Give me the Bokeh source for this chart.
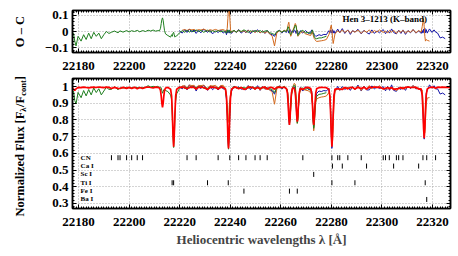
import numpy as np
from bokeh.plotting import figure
from bokeh.models import (ColumnDataSource, Range1d, LinearAxis, FixedTicker,
                          CustomJSTickFormatter, Label)
from bokeh.layouts import column, row
from bokeh.embed import file_html
from bokeh.resources import INLINE
from bokeh.core.properties import value

# ---------------- data ----------------
wavelength = [
    22177.5, 22178.0, 22178.5, 22179.0, 22179.8, 22181.0, 22182.0, 22183.0, 22184.0, 22185.0,
    22186.0, 22187.0, 22188.0, 22189.0, 22190.0, 22191.0, 22192.0, 22193.0, 22194.2, 22195.6,
    22196.4, 22197.6, 22199.0, 22200.0, 22201.0, 22202.1, 22203.2, 22204.2, 22205.3, 22206.5,
    22207.5, 22208.5, 22209.5, 22210.5, 22211.3, 22212.0, 22212.4, 22212.7, 22212.95, 22213.2,
    22213.45, 22213.7, 22214.0, 22214.4, 22215.3, 22216.4, 22216.8, 22217.1, 22217.35, 22217.6,
    22217.85, 22218.1, 22218.4, 22218.8, 22219.8, 22221.0, 22222.0, 22222.9, 22223.8, 22224.8,
    22225.7, 22226.5, 22227.4, 22228.4, 22229.5, 22231.0, 22232.0, 22233.0, 22234.2, 22235.2,
    22236.3, 22237.2, 22238.1, 22238.5, 22238.8, 22239.05, 22239.3, 22239.55, 22239.8, 22240.1,
    22240.5, 22241.5, 22242.4, 22243.3, 22244.3, 22245.4, 22246.2, 22247.1, 22248.0, 22248.9,
    22249.8, 22250.8, 22251.8, 22252.8, 22253.7, 22254.6, 22255.6, 22256.6, 22257.5, 22258.4,
    22259.4, 22260.4, 22261.3, 22262.2, 22262.6, 22262.9, 22263.15, 22263.4, 22263.65, 22263.9,
    22264.2, 22264.6, 22264.95, 22265.3, 22265.7, 22266.0, 22266.25, 22266.5, 22266.75, 22267.0,
    22267.3, 22267.7, 22268.7, 22269.8, 22270.8, 22271.8, 22272.2, 22272.5, 22272.75, 22273.0,
    22273.25, 22273.5, 22273.8, 22274.2, 22275.1, 22276.0, 22277.0, 22278.0, 22279.0, 22279.4,
    22279.7, 22279.95, 22280.2, 22280.45, 22280.7, 22281.0, 22281.4, 22282.5, 22283.3, 22284.3,
    22285.3, 22286.5, 22287.5, 22288.4, 22289.3, 22290.5, 22291.8, 22292.9, 22293.9, 22295.0,
    22296.0, 22297.0, 22298.0, 22299.0, 22300.5, 22301.4, 22302.2, 22303.0, 22303.8, 22304.6,
    22305.7, 22306.6, 22307.5, 22308.3, 22309.3, 22310.3, 22311.3, 22312.3, 22313.4, 22314.5,
    22315.5, 22315.9, 22316.2, 22316.45, 22316.7, 22316.95, 22317.2, 22317.5, 22317.9, 22318.8,
    22319.8, 22320.6, 22321.2, 22322.0, 22323.0, 22324.0, 22325.0, 22326.0, 22327.0,
]

model_flux = [
    0.994, 0.984, 0.976, 0.986, 0.995, 0.993, 0.996, 0.994, 0.992, 0.995,
    0.996, 0.994, 0.997, 0.995, 0.993, 0.996, 0.995, 0.988, 0.995, 0.989,
    0.988, 0.995, 0.989, 0.995, 0.988, 0.995, 0.987, 0.994, 0.988, 0.995,
    0.997, 0.994, 0.992, 0.996, 0.995, 0.991, 0.977, 0.941, 0.899, 0.875,
    0.899, 0.941, 0.977, 0.991, 0.995, 0.984, 0.942, 0.835, 0.711, 0.640,
    0.711, 0.835, 0.942, 0.984, 0.995, 0.996, 0.993, 0.986, 0.995, 0.996,
    0.994, 0.985, 0.995, 0.996, 0.994, 0.982, 0.995, 0.996, 0.994, 0.985,
    0.996, 0.995, 0.984, 0.940, 0.831, 0.703, 0.630, 0.703, 0.831, 0.940,
    0.984, 0.995, 0.996, 0.986, 0.994, 0.983, 0.987, 0.996, 0.995, 0.994,
    0.986, 0.994, 0.986, 0.995, 0.996, 0.985, 0.995, 0.994, 0.984, 0.995,
    0.996, 0.994, 0.995, 0.988, 0.961, 0.894, 0.815, 0.770, 0.815, 0.894,
    0.961, 0.988, 0.991, 0.989, 0.964, 0.903, 0.831, 0.790, 0.831, 0.903,
    0.964, 0.989, 0.983, 0.993, 0.995, 0.988, 0.961, 0.894, 0.815, 0.770,
    0.815, 0.894, 0.961, 0.988, 0.993, 0.995, 0.994, 0.993, 0.984, 0.942,
    0.835, 0.711, 0.640, 0.711, 0.835, 0.942, 0.984, 0.986, 0.985, 0.982,
    0.994, 0.986, 0.995, 0.994, 0.985, 0.995, 0.988, 0.995, 0.985, 0.996,
    0.994, 0.997, 0.995, 0.996, 0.987, 0.988, 0.994, 0.987, 0.994, 0.983,
    0.986, 0.987, 0.994, 0.987, 0.995, 0.997, 0.995, 0.994, 0.996, 0.985,
    0.986, 0.949, 0.858, 0.751, 0.690, 0.751, 0.858, 0.949, 0.986, 0.994,
    0.996, 0.995, 0.989, 0.996, 0.995, 0.996, 0.995, 0.996, 0.995,
]

# observed - model residuals (O - C) for the three observed spectra
oc_green = [
    None, -0.01, -0.06, -0.09, -0.03, -0.06, -0.02, -0.05, -0.01, -0.045,
    -0.005, -0.03, -0.01, -0.045, -0.02, 0.0, -0.012, -0.005, 0.003, -0.008,
    0.004, -0.004, 0.006, -0.003, 0.005, 0.0, 0.007, -0.002, 0.006, 0.0,
    0.008, 0.003, 0.009, 0.002, 0.006, 0.004, 0.02, 0.05, 0.075, 0.085,
    0.07, 0.04, 0.005, -0.015, -0.025, -0.035, -0.02, -0.03, -0.01, -0.005,
    -0.02, -0.035, -0.03, -0.028, -0.01, 0.005, -0.005, 0.008, -0.004, 0.006,
    -0.002, 0.01, 0.0, 0.007, -0.005, 0.008, -0.004, 0.005, -0.003, 0.006,
    -0.002, 0.004, -0.006, -0.01, 0.01, 0.0, -0.005, 0.01, 0.005, -0.01,
    0.0, 0.006, -0.004, 0.008, 0.0, 0.01, 0.004, -0.006, 0.005, -0.003,
    0.007, -0.002, 0.006, -0.005, 0.003, 0.005, -0.008, -0.012, -0.02, 0.0,
    0.006, -0.004, 0.005, 0.0, 0.015, 0.03, 0.02, 0.005, -0.015, -0.02,
    -0.01, 0.0, 0.01, 0.02, 0.04, 0.035, 0.01, -0.01, -0.025, -0.02,
    -0.01, 0.0, 0.008, -0.01, -0.005, -0.015, 0.0, 0.01, -0.005, -0.02,
    -0.03, -0.04, -0.045, -0.045, -0.04, -0.04, -0.035, -0.03,
]

oc_blue = [None] * 54 + [
    0.005, -0.01, 0.012, -0.006, 0.015, -0.004,
    0.01, -0.012, 0.006, -0.008, 0.014, -0.005, 0.008, -0.015, 0.004, -0.006,
    0.009, -0.01, 0.003, -0.02, 0.01, -0.01, 0.005, 0.008, -0.01, 0.0,
    -0.012, 0.008, -0.006, 0.012, -0.01, 0.004, -0.008, 0.01, -0.014, 0.006,
    -0.004, 0.011, -0.009, 0.005, -0.012, 0.007, -0.015, -0.02, -0.03, -0.005,
    0.008, -0.01, 0.004, -0.006, 0.01, 0.005, -0.01, 0.0, 0.012, 0.005,
    -0.008, 0.004, -0.006, 0.01, 0.005, -0.012, 0.0, 0.008, -0.005, -0.015,
    -0.008, 0.005, -0.01, 0.006, -0.012, -0.005, 0.01, 0.0, -0.015, -0.01,
    -0.02, -0.025, -0.03, -0.028, -0.02, -0.025, -0.018, -0.02, 0.005, -0.01,
    0.01, 0.0, -0.01, 0.012, -0.01, 0.005, -0.012, 0.015, -0.008, 0.018,
    -0.012, 0.01, -0.018, 0.006, -0.004, 0.014, -0.015, 0.008, -0.006, -0.016,
    0.01, -0.012, 0.004, -0.008, 0.012, -0.014, 0.006, -0.01, 0.016, -0.006,
    -0.015, 0.008, -0.012, 0.01, -0.018, 0.006, -0.008, 0.012, -0.01, 0.004,
    -0.012, 0.006, -0.01, 0.015, -0.005, 0.02, -0.008, 0.012, -0.01, 0.016,
    -0.006, 0.01, -0.004, -0.01, -0.04, -0.035, -0.045,
]

oc_orange = [None] * 55 + [
    0.008, 0.012, 0.006, 0.014, 0.01,
    0.013, 0.005, 0.012, 0.009, 0.015, 0.004, 0.011, 0.007, 0.013, 0.006,
    0.01, 0.012, 0.005, 0.0, 0.02, 0.08, 0.16, 0.17, 0.09, 0.01,
    -0.005, 0.006, -0.004, 0.008, -0.002, 0.005, -0.006, 0.007, -0.003, 0.004,
    -0.006, 0.005, -0.008, 0.003, -0.01, 0.0, -0.015, -0.03, -0.09, -0.01,
    0.005, -0.004, 0.008, 0.0, 0.02, 0.045, 0.058, 0.03, -0.01, -0.03,
    -0.02, 0.0, 0.015, 0.03, 0.05, 0.04, 0.015, -0.01, -0.03, -0.025,
    -0.015, -0.01, 0.0, -0.015, -0.02, -0.025, -0.01, 0.0, -0.02, -0.035,
    -0.045, -0.05, -0.058, -0.062, -0.06, -0.058, -0.055, -0.05, -0.02, 0.0,
    0.03, 0.04, 0.01, -0.04, -0.075, -0.05, -0.015, 0.005, -0.008, 0.01,
    -0.006, 0.008, -0.01, 0.004, -0.004, 0.009, -0.012, 0.006, -0.005, 0.01,
    -0.008, 0.006, -0.004, 0.01, -0.006, 0.003, -0.01, 0.007, -0.005, 0.008,
    -0.012, 0.005, -0.006, 0.008, -0.01, 0.004, -0.005, 0.012, -0.008, 0.006,
    -0.004, 0.03, 0.06, 0.08, 0.03, -0.03, -0.06, -0.05, -0.055, -0.06,
]

species = ["CN", "Ca I", "Sc I", "Ti I", "Fe I", "Ba I"]
species_rows = [0.575, 0.525, 0.475, 0.425, 0.375, 0.325]
lines_cn = [22193.0, 22195.6, 22196.4, 22199.0, 22201.0, 22203.2, 22205.3, 22222.9,
            22226.5, 22235.2, 22239.8, 22243.3, 22246.2, 22249.8, 22251.8, 22254.6,
            22268.7, 22280.2, 22282.5, 22283.3, 22286.5, 22291.8, 22300.5, 22301.4,
            22302.9, 22305.7, 22306.6, 22308.3, 22316.2, 22317.7, 22321.2]
lines_ca = [22280.4, 22284.3, 22293.9, 22304.6, 22314.5]
lines_sc = [22273.0]
lines_ti = [22217.0, 22217.6, 22231.0, 22239.2, 22280.2, 22289.3, 22317.1]
lines_fe = [22245.4, 22263.4, 22266.5]
lines_ba = [22317.7]

x_ticks = [22180, 22200, 22220, 22240, 22260, 22280, 22300, 22320]
oc_ticks = [-0.1, 0.0, 0.1]
flux_ticks = [0.3, 0.4, 0.5, 0.6, 0.7, 0.8, 0.9, 1.0]

star_label = "Hen 3\u20131213 (K\u2013band)"
oc_title = "O \u2013 C"
x_title = "Heliocentric wavelengths \u03bb [\u00c5]"
flux_title_parts = ["Normalized Flux [F", "\u03bb", "/F", "cont", "]"]

# ---------------- build ----------------
FONT = "Liberation Serif"
GREEN = "#1f7f1f"
BLUE = "#1414a8"
ORANGE = "#d2691e"
RED = "#ff0000"

n = len(wavelength)


def full(a):
    return np.array(a + [None] * (n - len(a)), dtype=float)


wl = np.array(wavelength, dtype=float)
model = np.array(model_flux, dtype=float)
g_oc, b_oc, o_oc = full(oc_green), full(oc_blue), full(oc_orange)
src = ColumnDataSource(dict(wl=wl, model=model, g_oc=g_oc, b_oc=b_oc, o_oc=o_oc,
                            g=model + g_oc, b=model + b_oc, o=model + o_oc))

xr = Range1d(22177.6, 22327.1)
x_ticker = FixedTicker(ticks=x_ticks, minor_ticks=list(np.arange(22178, 22328, 1.0)))
oc_ticker = FixedTicker(ticks=oc_ticks, minor_ticks=list(np.round(np.arange(-0.12, 0.13, 0.02), 3)))
flux_ticker = FixedTicker(ticks=flux_ticks, minor_ticks=list(np.round(np.arange(0.28, 1.05, 0.02), 3)))

oc_fmt = CustomJSTickFormatter(code="""
if (Math.abs(tick) < 1e-9) { return '0'; }
return (tick < 0 ? '\u2212' : '') + Math.abs(tick).toFixed(1);
""")
flux_fmt = CustomJSTickFormatter(code="""
if (Math.abs(tick - 1) < 1e-9) { return '1'; }
return tick.toFixed(1);
""")
blank_fmt = CustomJSTickFormatter(code="return '';")

TITLE_W = 30          # width of the strip that holds the rotated y titles
LEFT = 42             # left border of the plots (frame starts at 72 px)
FRAME_W = 378
TOP_H = 10 + 42 + 24
BOT_H = 2 + 130 + 46
TOTAL_H = TOP_H + BOT_H


def style_axis(ax):
    ax.axis_line_width = 1.5
    ax.axis_line_color = "black"
    ax.major_tick_in = 4
    ax.major_tick_out = 0
    ax.minor_tick_in = 2
    ax.minor_tick_out = 0
    ax.major_tick_line_color = "black"
    ax.minor_tick_line_color = "black"
    ax.major_label_text_font = FONT
    ax.major_label_text_font_style = "bold"
    ax.major_label_text_font_size = "13px"
    ax.major_label_text_color = "black"


def make_fig(frame_h, y_range, y_ticker, y_fmt, top_border, bottom_border):
    f = figure(frame_width=FRAME_W, frame_height=frame_h, x_range=xr, y_range=y_range,
               output_backend="svg", toolbar_location=None,
               min_border_left=LEFT, min_border_right=2,
               min_border_top=top_border, min_border_bottom=bottom_border)
    f.background_fill_color = "white"
    f.border_fill_color = "white"
    f.outline_line_color = "black"
    f.outline_line_width = 1.5
    xa = f.xaxis[0]
    ya = f.yaxis[0]
    xa.ticker = x_ticker
    ya.ticker = y_ticker
    ya.formatter = y_fmt
    style_axis(xa)
    style_axis(ya)
    xa.major_label_standoff = 9
    ya.major_label_standoff = 4
    for g, t in ((f.xgrid[0], x_ticker), (f.ygrid[0], y_ticker)):
        g.ticker = t
        g.grid_line_color = "#a8a8a8"
        g.grid_line_dash = "1 2"
        g.grid_line_width = 1
    ra = LinearAxis(ticker=y_ticker, formatter=blank_fmt)
    ta = LinearAxis(ticker=x_ticker, formatter=blank_fmt)
    for a in (ra, ta):
        style_axis(a)
        a.major_label_standoff = 0
        a.major_label_text_font_size = "0px"
    f.add_layout(ra, "right")
    f.add_layout(ta, "above")
    return f, xa


top, top_x = make_fig(42, Range1d(-0.131, 0.131), oc_ticker, oc_fmt, 10, 24)
bot, bot_x = make_fig(130, Range1d(0.27, 1.048), flux_ticker, flux_fmt, 2, 46)

# top panel: residuals
top.line("wl", "b_oc", source=src, line_color=BLUE, line_width=1)
top.line("wl", "o_oc", source=src, line_color=ORANGE, line_width=1)
top.line("wl", "g_oc", source=src, line_color=GREEN, line_width=1)
top.add_layout(Label(x=22284.4, y=0.075, text=star_label, text_font=FONT,
                     text_font_style="bold", text_font_size="9px",
                     text_baseline="middle", text_color="black"))

# bottom panel: spectra
bot.line("wl", "b", source=src, line_color=BLUE, line_width=1)
bot.line("wl", "o", source=src, line_color=ORANGE, line_width=1)
bot.line("wl", "g", source=src, line_color=GREEN, line_width=1)
bot.line("wl", "model", source=src, line_color=RED, line_width=1.7)

seg_x, seg_y0, seg_y1 = [], [], []
for rw, lst in zip(species_rows, [lines_cn, lines_ca, lines_sc, lines_ti, lines_fe, lines_ba]):
    for lam in lst:
        seg_x.append(lam)
        seg_y0.append(rw - 0.016)
        seg_y1.append(rw + 0.014)
bot.segment(x0=seg_x, y0=seg_y0, x1=seg_x, y1=seg_y1, line_color="black", line_width=1)
bot.text(x=[22180.8] * len(species), y=species_rows, text=species,
         text_font=value(FONT), text_font_style="bold", text_font_size="7px",
         text_baseline="middle", text_align="left", text_color="black")

bot_x.axis_label = x_title
bot_x.axis_label_text_font = FONT
bot_x.axis_label_text_font_style = "bold"
bot_x.axis_label_text_font_size = "13px"
bot_x.axis_label_standoff = 3

# ---- strip on the left with the rotated y-axis titles (pixel coordinates, y up) ----
tf = figure(width=TITLE_W, height=TOTAL_H, x_range=Range1d(0, TITLE_W), y_range=Range1d(0, TOTAL_H),
            x_axis_type=None, y_axis_type=None, output_backend="svg", toolbar_location=None,
            min_border=0, outline_line_color=None)
tf.background_fill_color = "white"
tf.border_fill_color = "white"
tf.xgrid.visible = False
tf.ygrid.visible = False

TX = 19
tf.text(x=[TX], y=[TOTAL_H - 31], text=[oc_title], angle=np.pi / 2,
        text_align="center", text_baseline="middle", text_font=value(FONT),
        text_font_style="bold", text_font_size="12.5px", text_color="black")

main_fs, sub_fs = 12.5, 8.5
sizes = [main_fs, sub_fs, main_fs, sub_fs, main_fs]
shifts = [0, 3, 0, 3, 0]
ems = [8.388, 0.55, 0.889, 1.833, 0.333]   # approximate widths in em (bold serif)
ypos = TOTAL_H - 216.0
for txt, fs, dx, em in zip(flux_title_parts, sizes, shifts, ems):
    tf.text(x=[TX + dx], y=[ypos], text=[txt], angle=np.pi / 2,
            text_align="left", text_baseline="middle", text_font=value(FONT),
            text_font_style="bold", text_font_size=f"{fs}px", text_color="black")
    ypos += em * fs

layout = row(tf, column(top, bot))
open("out.html", "w").write(file_html(layout, INLINE))
